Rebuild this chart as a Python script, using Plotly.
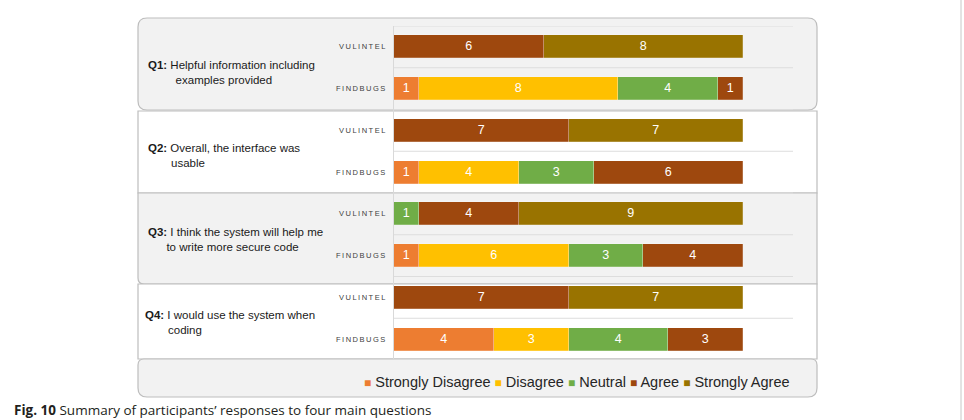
import plotly.graph_objects as go

# ---------------- data ----------------
questions = ["Q1:", "Q2:", "Q3:", "Q4:"]
question_line1 = ["Helpful information including", "Overall, the interface was",
                  "I think the system will help me", "I would use the system when"]
question_line2 = ["examples provided", "usable", "to write more secure code", "coding"]
tools = ["VULINTEL", "FINDBUGS"]

levels = ["Strongly Disagree", "Disagree", "Neutral", "Agree", "Strongly Agree"]
level_colors = ["#ED7D31", "#FFC000", "#70AD47", "#9E480E", "#997300"]

# rows: Q1 VULINTEL, Q1 FINDBUGS, Q2 VULINTEL, Q2 FINDBUGS, ... Q4 FINDBUGS
strongly_disagree = [0, 1, 0, 1, 0, 1, 0, 4]
disagree          = [0, 8, 0, 4, 0, 6, 0, 3]
neutral           = [0, 4, 0, 3, 1, 3, 0, 4]
agree             = [6, 1, 7, 6, 4, 4, 7, 3]
strongly_agree    = [8, 0, 7, 0, 9, 0, 7, 0]
series = [strongly_disagree, disagree, neutral, agree, strongly_agree]

caption_bold = "Fig. 10"
caption_text = " Summary of participants\u2019 responses to four main questions"

# ---------------- geometry helpers ----------------
W, H = 964, 420
L, R, T, B = 394, 793, 26, 360


def px2x(px):
    return (px - L) / (R - L)


def py2y(py):
    return (B - py) / (B - T)


def rrect(x0, y0, x1, y1, r=(0, 0, 0, 0)):
    tl, tr, br, bl = r

    def P(x, y):
        return f"{px2x(x):.5f},{py2y(y):.5f}"
    d = f"M{P(x0 + tl, y0)} L{P(x1 - tr, y0)} Q{P(x1, y0)} {P(x1, y0 + tr)} "
    d += f"L{P(x1, y1 - br)} Q{P(x1, y1)} {P(x1 - br, y1)} "
    d += f"L{P(x0 + bl, y1)} Q{P(x0, y1)} {P(x0, y1 - bl)} "
    d += f"L{P(x0, y0 + tl)} Q{P(x0, y0)} {P(x0 + tl, y0)} Z"
    return d


def indent(px, size):
    """whitespace string approximately px pixels wide at the given font size"""
    em = size
    n_em = int(px // em)
    rest = px - n_em * em
    n_thin = int(round(rest / (em / 5)))
    return "\u2003" * n_em + "\u2009" * n_thin


FONT = "Liberation Sans, Arial, Helvetica, sans-serif"

rows = list(range(len(questions) * len(tools)))

fig = go.Figure()
for name, col, vals in zip(levels, level_colors, series):
    fig.add_trace(go.Bar(
        y=rows, x=[v if v else None for v in vals], name=name, orientation="h",
        marker=dict(color=col, line=dict(color="rgba(255,255,255,0.35)", width=0.6)),
        width=0.55,
        text=[str(v) if v else "" for v in vals],
        textposition="inside", insidetextanchor="middle", textangle=0,
        constraintext="none",
        textfont=dict(color="white", size=12.5, family=FONT),
        showlegend=False, hoverinfo="x+name",
    ))

shapes = []
BORDER = "#bdbdbd"
GRAYFILL = "#f2f2f2"
# panels
shapes.append(dict(type="path", path=rrect(138, 18, 817, 110, (9, 9, 9, 9)),
                   xref="paper", yref="paper", fillcolor=GRAYFILL,
                   line=dict(color=BORDER, width=1.2), layer="below"))
shapes.append(dict(type="path", path=rrect(138, 111, 817, 193),
                   xref="paper", yref="paper", fillcolor="white",
                   line=dict(color=BORDER, width=1.2), layer="below"))
shapes.append(dict(type="path", path=rrect(138, 193, 817, 284, (0, 0, 0, 6)),
                   xref="paper", yref="paper", fillcolor=GRAYFILL,
                   line=dict(color=BORDER, width=1.2), layer="below"))
shapes.append(dict(type="path", path=rrect(138, 284, 817, 359),
                   xref="paper", yref="paper", fillcolor="white",
                   line=dict(color=BORDER, width=1.2), layer="below"))
shapes.append(dict(type="path", path=rrect(138, 359, 817, 397, (6, 6, 9, 9)),
                   xref="paper", yref="paper", fillcolor=GRAYFILL,
                   line=dict(color=BORDER, width=1.2), layer="below"))
# page edge line on right
shapes.append(dict(type="line", x0=px2x(961), x1=px2x(961), y0=py2y(0), y1=py2y(H),
                   xref="paper", yref="paper", line=dict(color="#c8c8c8", width=1)))
# row separators
for k in range(len(rows) + 1):
    shapes.append(dict(type="line", xref="x", yref="y", x0=0, x1=16,
                       y0=k - 0.5, y1=k - 0.5,
                       line=dict(color="#dddddd", width=1), layer="below"))

annotations = []
HS = "\u2009"
for i, row in enumerate(rows):
    tool = tools[i % len(tools)]
    annotations.append(dict(
        x=px2x(387), y=row, xref="paper", yref="y", xanchor="right", yanchor="middle",
        text=HS.join(tool), showarrow=False,
        font=dict(size=7.5, color="#404040", family=FONT)))

QSIZE = 11.5
q_ymid = [72.5, 155, 239, 322]
q_x = [146, 146, 146, 143]
q_x2 = [173, 169, 165, 166]
for qi in range(len(questions)):
    annotations.append(dict(
        x=px2x(q_x[qi]), y=py2y(q_ymid[qi]), xref="paper", yref="paper",
        xanchor="left", yanchor="middle", align="left", showarrow=False,
        text=(f"<b>{questions[qi]}</b> {question_line1[qi]}<br>"
              f"{indent(q_x2[qi] - q_x[qi], QSIZE)}{question_line2[qi]}"),
        font=dict(size=QSIZE, color="#1a1a1a", family=FONT)))

# legend built from series names / colours
legend_parts = []
for name, col in zip(levels, level_colors):
    legend_parts.append(
        f'<span style="color:{col};font-size:12px">\u25A0</span> {name}')
annotations.append(dict(
    x=px2x(577), y=py2y(382), xref="paper", yref="paper",
    xanchor="center", yanchor="middle", showarrow=False,
    text=" ".join(legend_parts),
    font=dict(size=14.5, color="#262626", family=FONT)))

# caption
annotations.append(dict(
    x=px2x(12), y=py2y(410), xref="paper", yref="paper",
    xanchor="left", yanchor="middle", showarrow=False,
    text=f"<b>{caption_bold}</b>{caption_text}",
    font=dict(size=13.5, color="#231f20", family="Open Sans, sans-serif")))

fig.update_layout(
    width=W, height=H,
    margin=dict(l=L, r=W - R, t=T, b=H - B, pad=0),
    barmode="stack", bargap=0,
    paper_bgcolor="white", plot_bgcolor="rgba(0,0,0,0)",
    xaxis=dict(range=[0, 16], showgrid=False, zeroline=False, showticklabels=False,
               showline=False, fixedrange=True),
    yaxis=dict(range=[len(rows) - 0.5, -0.5], showgrid=False, zeroline=False,
               showticklabels=False, showline=True, linecolor="#d9d9d9", linewidth=1,
               fixedrange=True),
    shapes=shapes, annotations=annotations,
    showlegend=False,
    font=dict(family=FONT),
)

fig.write_html("out.html")
